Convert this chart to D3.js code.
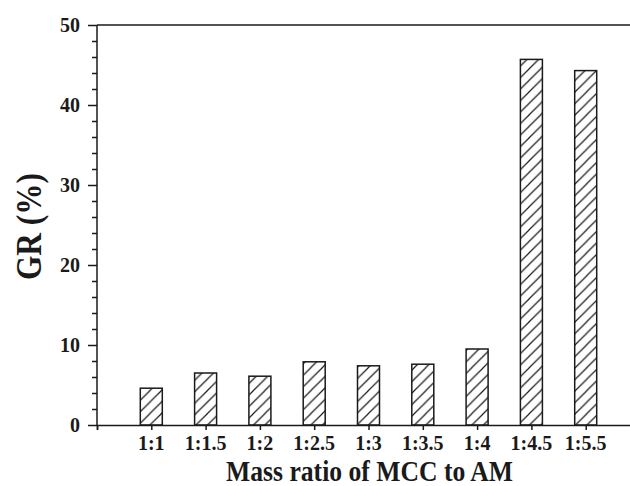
<!DOCTYPE html>
<html>
<head>
<meta charset="utf-8">
<script src="https://cdn.jsdelivr.net/npm/d3@7"></script>
<style>
  body { margin: 0; background: #fff; }
  svg { display: block; }
  text { font-family: "Liberation Serif", "Times New Roman", serif; font-weight: bold; fill: #1a1a1a; }
</style>
</head>
<body>
<svg id="chart" width="630" height="486"></svg>
<script>
const ratios = ["1:1", "1:1.5", "1:2", "1:2.5", "1:3", "1:3.5", "1:4", "1:4.5", "1:5.5"];
const gr = [4.6, 6.5, 6.1, 7.9, 7.4, 7.6, 9.5, 45.7, 44.3];
const yTicks = [0, 10, 20, 30, 40, 50];

const svg = d3.select("#chart");
const plotL = 97, plotR = 640, plotT = 25, plotB = 425;

const x = d3.scaleLinear().domain([0, 10]).range([plotL, plotR]);
const y = d3.scaleLinear().domain([0, 50]).range([plotB, plotT]);

// hatch
const defs = svg.append("defs");
const pat = defs.append("pattern")
    .attr("id", "hatch")
    .attr("patternUnits", "userSpaceOnUse")
    .attr("width", 11.5)
    .attr("height", 11.5);
pat.append("rect").attr("width", 11.5).attr("height", 11.5).attr("fill", "#fff");
pat.append("path")
    .attr("d", "M-2,13.5 L13.5,-2 M-2,2 L2,-2 M9.5,13.5 L13.5,9.5")
    .attr("stroke", "#1a1a1a")
    .attr("stroke-width", 1.2);

const bw = 22;
svg.append("g").selectAll("rect")
    .data(gr)
    .join("rect")
    .attr("x", (d, i) => x(i + 1) - bw / 2)
    .attr("y", d => y(d))
    .attr("width", bw)
    .attr("height", d => y(0) - y(d))
    .attr("fill", "url(#hatch)")
    .attr("stroke", "#1a1a1a")
    .attr("stroke-width", 1.5);

// y axis
const yAxis = svg.append("g").attr("transform", `translate(${plotL},0)`);
yAxis.call(d3.axisLeft(y).tickValues(d3.range(0, 51, 2)).tickSize(5).tickFormat(""));
yAxis.call(g => g.selectAll(".tick").filter(d => d % 10 === 0).select("line").attr("x2", -9));
yAxis.selectAll("path.domain").attr("d", `M0,${plotB}V${plotT}`);
yAxis.selectAll("line, path").attr("stroke", "#1a1a1a").attr("stroke-width", 1.5);
svg.append("g").selectAll("text")
    .data(yTicks)
    .join("text")
    .attr("x", 80)
    .attr("y", d => y(d))
    .attr("dy", "0.35em")
    .attr("text-anchor", "end")
    .attr("font-size", 20)
    .text(d => d);

// x axis
const xAxis = svg.append("g").attr("transform", `translate(0,${plotB})`);
xAxis.call(d3.axisBottom(x).tickValues(d3.range(0, 10)).tickSize(5).tickFormat(""));
xAxis.selectAll("line, path").attr("stroke", "#1a1a1a").attr("stroke-width", 1.5);
svg.append("g").selectAll("text")
    .data(ratios)
    .join("text")
    .attr("x", (d, i) => x(i + 1))
    .attr("y", 450)
    .attr("text-anchor", "middle")
    .attr("font-size", 20)
    .text(d => d);

// top line
svg.append("line")
    .attr("x1", plotL).attr("x2", 630)
    .attr("y1", y(50)).attr("y2", y(50))
    .attr("stroke", "#1a1a1a").attr("stroke-width", 1.5);

svg.append("text")
    .attr("x", 226)
    .attr("y", 481)
    .attr("font-size", 29)
    .attr("textLength", 287)
    .attr("lengthAdjust", "spacingAndGlyphs")
    .text("Mass ratio of MCC to AM");

svg.append("text")
    .attr("transform", "translate(41,280) rotate(-90)")
    .attr("font-size", 35)
    .attr("textLength", 107)
    .attr("lengthAdjust", "spacingAndGlyphs")
    .text("GR (%)");
</script>
</body>
</html>
